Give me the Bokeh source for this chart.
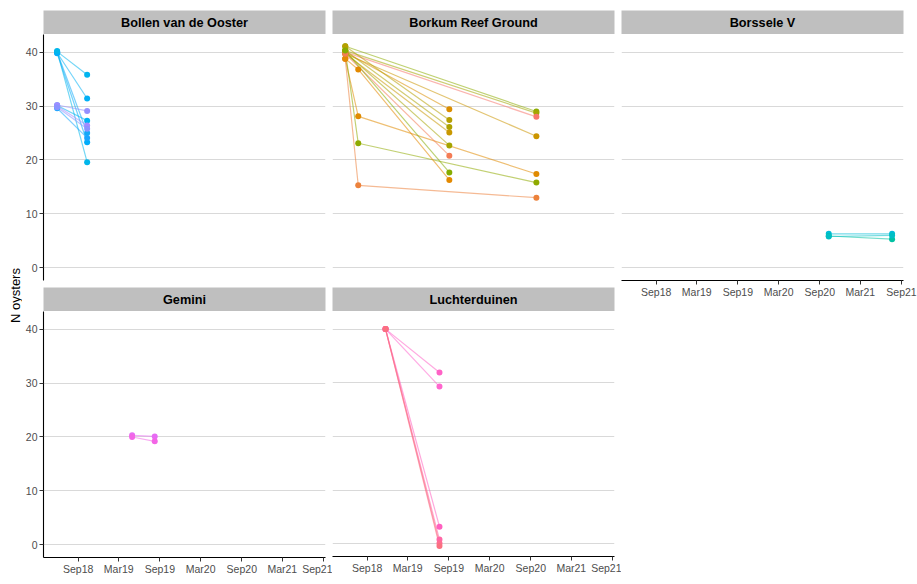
import numpy as np
import pandas as pd
from bokeh.plotting import figure
from bokeh.layouts import row, column
from bokeh.models import Range1d, FixedTicker, DatetimeTickFormatter, Grid
from bokeh.core.properties import value
from bokeh.embed import file_html
from bokeh.resources import INLINE

FONT = "Liberation Sans"

# ---- data -------------------------------------------------------------
sites = ["Bollen van de Ooster", "Borkum Reef Ground", "Borssele V",
         "Gemini", "Luchterduinen"]

# one entry per tracked unit: site, sampling dates, oyster counts, colour
unit_site = (["Bollen van de Ooster"] * 10 + ["Borkum Reef Ground"] * 15 +
             ["Borssele V"] * 3 + ["Gemini"] * 2 + ["Luchterduinen"] * 6)

unit_dates = [
    # Bollen van de Ooster
    ["2018-05-30", "2018-10-11"], ["2018-05-30", "2018-10-11"],
    ["2018-05-30", "2018-10-11"], ["2018-05-30", "2018-10-11"],
    ["2018-05-30", "2018-10-11"], ["2018-05-30", "2018-10-11"],
    ["2018-05-30", "2018-10-11"], ["2018-05-30", "2018-10-11"],
    ["2018-05-30", "2018-10-11"], ["2018-05-30", "2018-10-11"],
    # Borkum Reef Ground
    ["2018-05-26", "2020-09-26"], ["2018-05-26", "2020-09-26"],
    ["2018-05-26", "2020-09-26"], ["2018-05-26", "2020-09-26"],
    ["2018-05-26", "2018-07-23", "2020-09-26"],
    ["2018-05-26", "2018-07-23", "2020-09-26"],
    ["2018-05-26", "2018-07-23", "2020-09-26"],
    ["2018-05-26", "2018-07-23", "2019-09-03"],
    ["2018-05-26", "2019-09-03"], ["2018-05-26", "2019-09-03"],
    ["2018-05-26", "2019-09-03"], ["2018-05-26", "2019-09-03"],
    ["2018-05-26", "2019-09-03"], ["2018-05-26", "2019-09-03"],
    ["2018-05-26", "2019-09-03"],
    # Borssele V
    ["2020-10-11", "2021-07-21"], ["2020-10-11", "2021-07-21"],
    ["2020-10-11", "2021-07-21"],
    # Gemini
    ["2019-04-30", "2019-08-09"], ["2019-04-30", "2019-08-09"],
    # Luchterduinen
    ["2018-11-22", "2019-07-21"], ["2018-11-22", "2019-07-21"],
    ["2018-11-22", "2019-07-21"], ["2018-11-22", "2019-07-21"],
    ["2018-11-22", "2019-07-21"], ["2018-11-22", "2019-07-21"],
]

unit_counts = [
    # Bollen van de Ooster
    [40.1, 35.8], [39.9, 31.4], [40.0, 25.0], [39.8, 23.3], [40.2, 19.6],
    [30.1, 27.3], [29.6, 24.1], [30.2, 29.1], [30.0, 26.4], [29.8, 25.8],
    # Borkum Reef Ground
    [41.1, 29.0], [40.3, 28.7], [40.0, 28.0], [39.7, 24.4],
    [38.8, 28.1, 17.4], [40.3, 23.1, 15.8], [38.8, 15.3, 13.0],
    [38.8, 36.8, 16.3],
    [40.0, 29.4], [41.1, 27.4], [40.3, 26.1], [39.7, 25.1], [40.0, 22.7],
    [39.7, 20.8], [40.3, 17.7],
    # Borssele V
    [6.3, 6.3], [5.9, 5.3], [5.8, 6.0],
    # Gemini
    [20.3, 20.1], [20.0, 19.2],
    # Luchterduinen
    [40.0, 31.9], [40.0, 29.3], [40.0, 3.2], [40.0, 0.8], [40.0, 0.1],
    [40.0, -0.4],
]

unit_colors = [
    # Bollen van de Ooster
    "#00B4EF", "#00B0F6", "#14A9F8", "#00ADFA", "#00B6EB",
    "#00B2F3", "#1AA5FF", "#9590FF", "#A58AFF", "#8B93FF",
    # Borkum Reef Ground
    "#8CAB00", "#A3A500", "#F8766D", "#CC9600", "#E08B00", "#8FAA00",
    "#EC823C", "#E38900", "#DB8E00", "#B69F00", "#ADA200", "#C99800",
    "#A6A400", "#F47C55", "#86AC00",
    # Borssele V
    "#00BCD8", "#00C1A3", "#00BFC4",
    # Gemini
    "#E76BF3", "#F365E6",
    # Luchterduinen
    "#FF62C6", "#FF66CE", "#FF5FC0", "#FF67A6", "#FF6C92", "#FA7080",
]

y_ticks = [0, 10, 20, 30, 40]
x_tick_dates = ["2018-09-01", "2019-03-01", "2019-09-01", "2020-03-01",
                "2020-09-01", "2021-03-01", "2021-09-01"]

x_start, x_end = pd.Timestamp("2018-03-30"), pd.Timestamp("2021-09-10")
y_start, y_end = -2.36, 43.28

# ---- layout constants ------------------------------------------------
FRAME_W = 282
FRAME_H = 246
STRIP_H = 24
TOP_PAD = 10
YTITLE_W = 22
LEFT_AX = 21
GAP = 7
RIGHT_PAD = 14
TOTAL_H = 584

x_tick_ms = [pd.Timestamp(d).value // 10**6 for d in x_tick_dates]


def style_common(p):
    p.outline_line_color = None
    p.background_fill_color = "white"
    p.border_fill_color = "white"
    for g in p.grid:
        g.visible = False


def make_strip(label, border_top, border_left, border_right):
    s = figure(width=border_left + FRAME_W + border_right,
               height=border_top + STRIP_H,
               x_range=Range1d(0, 1), y_range=Range1d(0, 1),
               x_axis_location=None, y_axis_location=None,
               toolbar_location=None, output_backend="svg",
               min_border=0, min_border_top=border_top,
               min_border_left=border_left, min_border_right=border_right,
               min_border_bottom=0)
    style_common(s)
    s.background_fill_color = "#BFBFBF"
    s.text(x=[0.5], y=[0.5], text=[label], text_align="center",
           text_baseline="middle", text_font=value(FONT),
           text_font_style="bold", text_font_size="12.7px",
           text_color="black")
    return s


def make_panel(site, height, bottom_axis, left_axis, border_bottom,
               border_left, border_right):
    p = figure(width=border_left + FRAME_W + border_right, height=height,
               x_range=Range1d(x_start, x_end),
               y_range=Range1d(y_start, y_end),
               x_axis_type="datetime",
               x_axis_location="below" if bottom_axis else None,
               y_axis_location="left" if left_axis else None,
               toolbar_location=None, output_backend="svg",
               min_border=0, min_border_top=0,
               min_border_bottom=border_bottom,
               min_border_left=border_left, min_border_right=border_right)
    style_common(p)
    p.add_layout(Grid(dimension=1, ticker=FixedTicker(ticks=y_ticks),
                      grid_line_color="#D9D9D9", grid_line_width=1))

    axes = []
    if left_axis:
        p.yaxis.ticker = FixedTicker(ticks=y_ticks)
        p.yaxis.major_label_standoff = 2
        axes.append(p.yaxis)
    if bottom_axis:
        p.xaxis.ticker = FixedTicker(ticks=x_tick_ms)
        p.xaxis.formatter = DatetimeTickFormatter(
            days="%b%y", months="%b%y", years="%b%y")
        p.xaxis.major_label_standoff = 1
        axes.append(p.xaxis)
    for ax in axes:
        ax.axis_line_color = "black"
        ax.axis_line_width = 1.1
        ax.major_tick_line_color = "#333333"
        ax.major_tick_out = 4
        ax.major_tick_in = 0
        ax.minor_tick_out = 0
        ax.minor_tick_in = 0
        ax.major_label_text_font = FONT
        ax.major_label_text_font_size = "10.5px"
        ax.major_label_text_color = "#4D4D4D"

    idx = [i for i, s in enumerate(unit_site) if s == site]
    for i in idx:
        xs = pd.to_datetime(unit_dates[i])
        p.line(xs, unit_counts[i], line_color=unit_colors[i],
               line_alpha=0.55, line_width=1.2)
    for i in idx:
        xs = pd.to_datetime(unit_dates[i])
        p.scatter(xs, unit_counts[i], size=6, marker="circle",
                  fill_color=unit_colors[i], line_color=None)
    return p


def make_text_fig(width, height, label, x, y, angle, baseline):
    t = figure(width=width, height=height,
               x_range=Range1d(0, width), y_range=Range1d(0, height),
               x_axis_location=None, y_axis_location=None,
               toolbar_location=None, output_backend="svg", min_border=0)
    style_common(t)
    t.text(x=[x], y=[y], text=[label], angle=angle, text_align="center",
           text_baseline=baseline, text_font=value(FONT),
           text_font_size="13px", text_color="black")
    return t


# ---- panels ----------------------------------------------------------
top_panel_h = FRAME_H + (287 - (TOP_PAD + STRIP_H + FRAME_H))  # gap under row 1
bottom1_h = TOTAL_H - (TOP_PAD + STRIP_H + top_panel_h + STRIP_H)

# column 1: Bollen van de Ooster / Gemini
c1 = column(
    make_strip(sites[0], TOP_PAD, LEFT_AX, GAP),
    make_panel(sites[0], top_panel_h, False, True,
               top_panel_h - FRAME_H, LEFT_AX, GAP),
    make_strip(sites[3], 0, LEFT_AX, GAP),
    make_panel(sites[3], bottom1_h, True, True, bottom1_h - FRAME_H,
               LEFT_AX, GAP),
)

# column 2: Borkum Reef Ground / Luchterduinen + x title
bottom2_h = FRAME_H + 19
date_h = TOTAL_H - (TOP_PAD + STRIP_H + top_panel_h + STRIP_H + bottom2_h)
c2 = column(
    make_strip(sites[1], TOP_PAD, 0, GAP),
    make_panel(sites[1], top_panel_h, False, False,
               top_panel_h - FRAME_H, 0, GAP),
    make_strip(sites[4], 0, 0, GAP),
    make_panel(sites[4], bottom2_h, True, False, 19, 0, GAP),
    make_text_fig(FRAME_W + GAP, date_h, "date", FRAME_W / 2, date_h,
                  0, "top"),
)

# column 3: Borssele V (with its own date axis)
c3 = column(
    make_strip(sites[2], TOP_PAD, 0, RIGHT_PAD),
    make_panel(sites[2], TOTAL_H - TOP_PAD - STRIP_H, True, False,
               TOTAL_H - TOP_PAD - STRIP_H - FRAME_H, 0, RIGHT_PAD),
)

ytitle = make_text_fig(YTITLE_W, TOTAL_H, "N oysters", 14.5, TOTAL_H - 295,
                       np.pi / 2, "middle")

layout = row(ytitle, c1, c2, c3)

open("out.html", "w").write(file_html(layout, INLINE))
